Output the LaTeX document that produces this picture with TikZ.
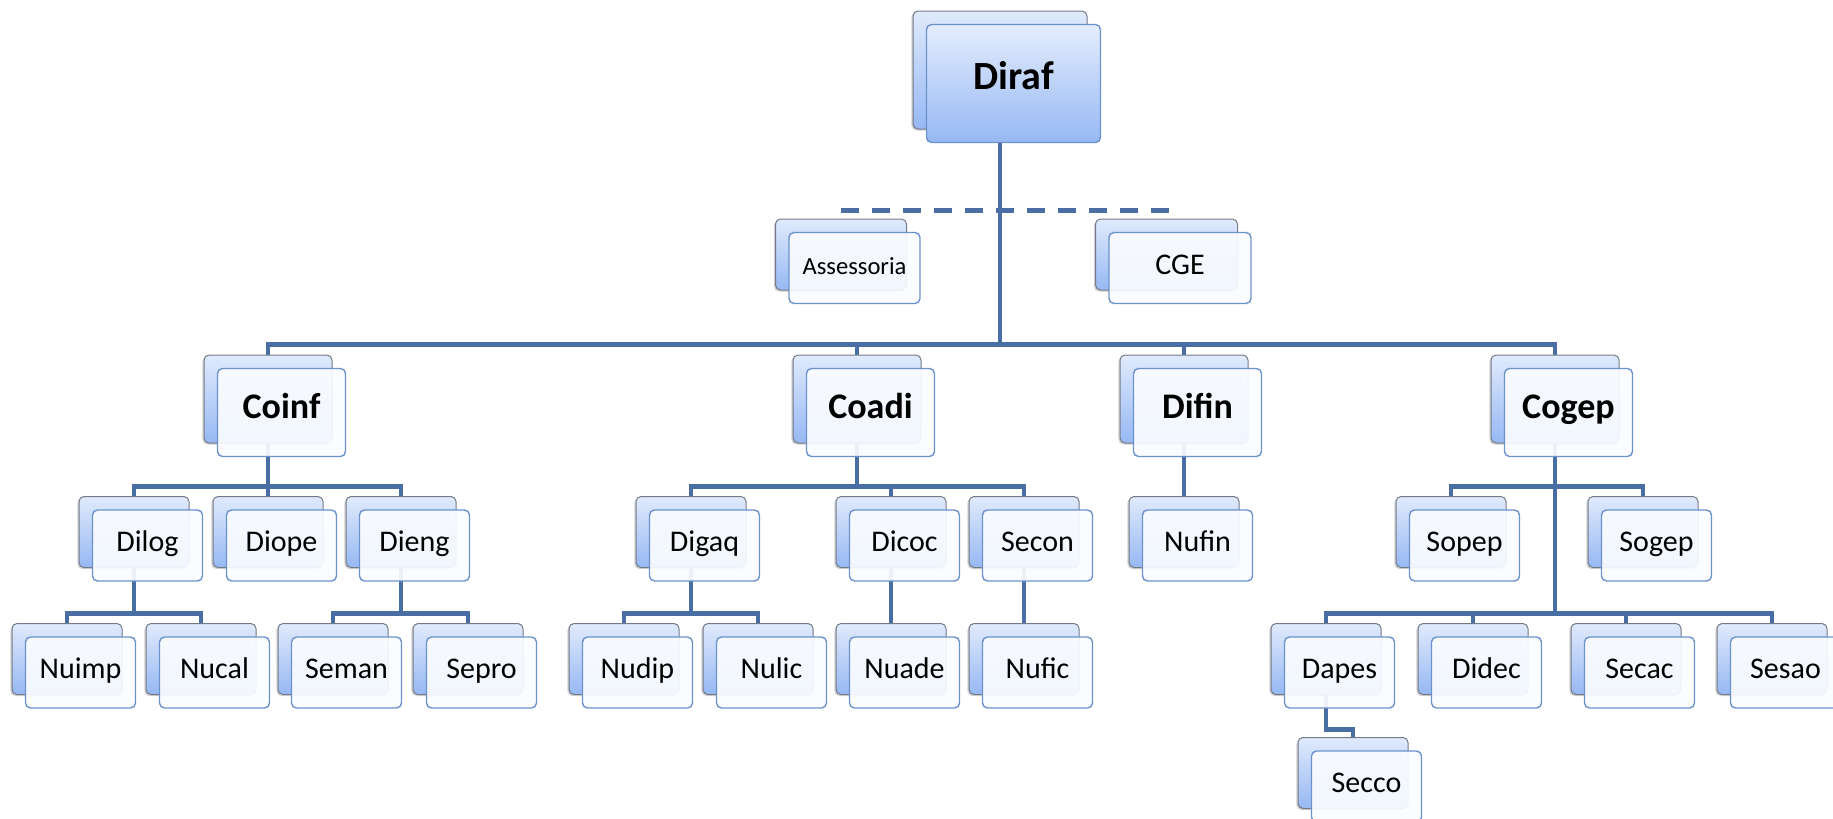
\documentclass[tikz,border=0pt]{standalone}
\usepackage{fontspec}
\setmainfont{Carlito}
\usetikzlibrary{backgrounds,shadows}

\definecolor{linkblue}{RGB}{72,110,163}
\definecolor{cardtop}{RGB}{224,234,252}
\definecolor{cardbot}{RGB}{150,184,243}
\definecolor{cardedge}{RGB}{115,122,135}
\definecolor{frontedge}{RGB}{108,146,206}
\definecolor{frontfill}{RGB}{250,252,255}

\tikzset{
  backcard/.style={rectangle, rounded corners=2.5pt, draw=cardedge, line width=0.5pt,
                   top color=cardtop, bottom color=cardbot, inner sep=0pt,
                   drop shadow={shadow xshift=-0.8pt, shadow yshift=-0.8pt, opacity=0.35}},
  frontcard/.style={rectangle, rounded corners=2.5pt, draw=frontedge, line width=0.7pt,
                    fill=frontfill, fill opacity=0.92, text opacity=1, inner sep=0pt,
                    text height=1.3ex, text depth=0pt},
  topcard/.style={minimum width=87pt, minimum height=59pt, font=\fontsize{20}{24}\selectfont\bfseries},
  bluefront/.style={fill opacity=1, top color=cardtop!85!white, bottom color=cardbot},
  headcard/.style={minimum width=64pt, minimum height=44pt, font=\fontsize{18}{22}\selectfont\bfseries},
  unitcard/.style={minimum width=55pt, minimum height=35.5pt, font=\fontsize{15}{18}\selectfont},
  link/.style={draw=linkblue, line width=2.3pt},
  stafflink/.style={link, dash pattern=on 9pt off 6.5pt}
}

% back card at the given spot, front card a little down and right
\newcommand{\orgcard}[5][]{%
  \node[backcard,#2] (#3-b) at (#4) {};
  \node[frontcard,#2,#1] (#3) at ([xshift=6.75pt,yshift=-6.75pt]#3-b.center) {#5};
}

\begin{document}
\begin{tikzpicture}[x=0.5pt,y=-0.5pt]
\useasboundingbox (0,0) rectangle (1833,819);

\orgcard[bluefront]{topcard}{diraf}{1000,70}{Diraf}
\orgcard{unitcard,minimum width=65.5pt,font=\fontsize{12.3}{15}\selectfont}{assess}{841,254.5}{Assessoria}
\orgcard{unitcard,minimum width=71pt}{cge}{1166.5,254.5}{CGE}

% coordenacoes
\orgcard{headcard}{coinf}{268,399}{Coinf}
\orgcard{headcard}{coadi}{857,399}{Coadi}
\orgcard{headcard}{difin}{1184,399}{Difin}
\orgcard{headcard}{cogep}{1555,399}{Cogep}

\orgcard{unitcard}{dilog}{134,532}{Dilog}
\orgcard{unitcard}{diope}{268,532}{Diope}
\orgcard{unitcard}{dieng}{401,532}{Dieng}
\orgcard{unitcard}{digaq}{691,532}{Digaq}
\orgcard{unitcard}{dicoc}{891,532}{Dicoc}
\orgcard{unitcard}{secon}{1024,532}{Secon}
\orgcard{unitcard}{nufin}{1184,532}{Nufin}
\orgcard{unitcard}{sopep}{1451,532}{Sopep}
\orgcard{unitcard}{sogep}{1643,532}{Sogep}

\orgcard{unitcard}{nuimp}{67,659}{Nuimp}
\orgcard{unitcard}{nucal}{201,659}{Nucal}
\orgcard{unitcard}{seman}{333,659}{Seman}
\orgcard{unitcard}{sepro}{468,659}{Sepro}
\orgcard{unitcard}{nudip}{624,659}{Nudip}
\orgcard{unitcard}{nulic}{758,659}{Nulic}
\orgcard{unitcard}{nuade}{891,659}{Nuade}
\orgcard{unitcard}{nufic}{1024,659}{Nufic}
\orgcard{unitcard}{dapes}{1326,659}{Dapes}
\orgcard{unitcard}{didec}{1473,659}{Didec}
\orgcard{unitcard}{secac}{1626,659}{Secac}
\orgcard{unitcard}{sesao}{1772,659}{Sesao}

\orgcard{unitcard}{secco}{1353,773}{Secco}

\begin{scope}[on background layer]
\foreach \boss/\kid/\gap in {diraf/coinf/5pt, diraf/coadi/5pt, diraf/difin/5pt, diraf/cogep/5pt,
    coinf/dilog/4.75pt, coinf/diope/4.75pt, coinf/dieng/4.75pt,
    coadi/digaq/4.75pt, coadi/dicoc/4.75pt, coadi/secon/4.75pt,
    difin/nufin/4.75pt, cogep/sopep/4.75pt, cogep/sogep/4.75pt,
    dilog/nuimp/4.75pt, dilog/nucal/4.75pt, dieng/seman/4.75pt, dieng/sepro/4.75pt,
    digaq/nudip/4.75pt, digaq/nulic/4.75pt, dicoc/nuade/4.75pt, secon/nufic/4.75pt,
    cogep/dapes/4.75pt, cogep/didec/4.75pt, cogep/secac/4.75pt, cogep/sesao/4.75pt,
    dapes/secco/3.75pt}
  \draw[link] (\boss-b.center) |- ([yshift=\gap]\kid-b.north) -- (\kid-b.north);
\draw[stafflink] ([yshift=4pt]assess-b.north) -| (cge-b.north);
\end{scope}
\end{tikzpicture}
\end{document}
